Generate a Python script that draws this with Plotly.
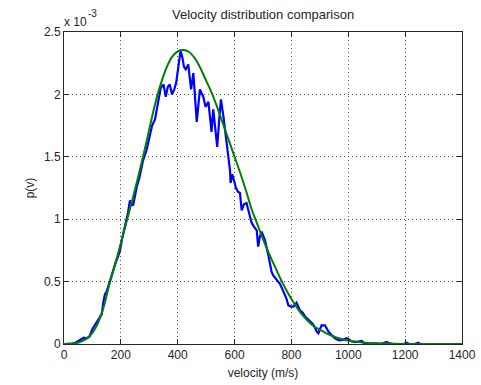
import plotly.graph_objects as go

# Measured (blue) distribution: velocity (m/s) and p(v) in units of 1e-3
v_meas = [0, 20, 30, 40, 50, 60, 70, 80, 90, 100, 110, 120, 127, 133, 138, 144, 150, 160, 170, 180,
          190, 197, 205, 215, 225, 232, 238, 243, 250, 256, 265, 272, 278, 290, 300, 310, 320, 325,
          330, 340, 350, 358, 365, 372, 380, 388, 395, 402, 410, 416, 422, 428, 437, 447, 455, 467,
          478, 490, 498, 508, 519, 525, 532, 539, 546, 552, 561, 570, 577, 584, 586, 592, 598, 605,
          612, 619, 625, 633, 642, 650, 660, 668, 678, 683, 689, 695, 707, 719, 730, 736, 748, 760,
          772, 783, 789, 798, 807, 818, 830, 840, 848, 858, 865, 875, 883, 889, 895, 900, 906, 918,
          925, 930, 942, 953, 962, 971, 983, 994, 1000, 1012, 1025, 1035, 1047, 1055, 1065, 1090,
          1110, 1125, 1135, 1145, 1160, 1195, 1205, 1215, 1235, 1245, 1255, 1400]
p_meas = [0, 0, 0.003, 0.01, 0.025, 0.04, 0.05, 0.045, 0.06, 0.12, 0.16, 0.19, 0.22, 0.24, 0.33, 0.40,
          0.42, 0.50, 0.57, 0.64, 0.70, 0.75, 0.85, 0.95, 1.05, 1.15, 1.12, 1.11, 1.20, 1.26, 1.33,
          1.42, 1.47, 1.55, 1.66, 1.75, 1.80, 1.86, 1.95, 2.05, 2.08, 1.98, 2.06, 2.08, 2.00, 2.04,
          2.10, 2.22, 2.35, 2.30, 2.22, 2.20, 2.24, 2.04, 2.17, 1.78, 2.04, 1.98, 1.90, 1.94, 1.70,
          1.88, 1.75, 1.58, 1.80, 1.96, 1.82, 1.65, 1.55, 1.39, 1.29, 1.36, 1.31, 1.25, 1.22, 1.21,
          1.07, 1.12, 1.13, 1.05, 0.97, 0.94, 0.91, 0.78, 0.86, 0.90, 0.83, 0.71, 0.58, 0.55, 0.51,
          0.48, 0.42, 0.36, 0.31, 0.30, 0.30, 0.33, 0.27, 0.25, 0.22, 0.20, 0.18, 0.16, 0.13, 0.10,
          0.086, 0.12, 0.15, 0.15, 0.12, 0.10, 0.07, 0.046, 0.035, 0.03, 0.035, 0.046, 0.04, 0.02,
          0.015, 0.02, 0.024, 0.01, 0.0, 0.005, 0.0, 0.008, 0.016, 0.005, 0.0, 0.0, 0.01, 0.0, 0.0,
          0.01, 0.0, 0.0]

# Theoretical (green) distribution, p(v) in units of 1e-3
v_theory = [0, 20, 40, 60, 80, 100, 120, 140, 160, 180, 200, 220, 240, 260, 280, 300, 320, 340, 360,
            380, 400, 420, 440, 460, 480, 500, 520, 540, 560, 580, 600, 620, 640, 660, 680, 700, 720,
            740, 760, 780, 800, 820, 840, 860, 880, 900, 920, 940, 960, 980, 1000, 1050, 1100, 1150,
            1200, 1300, 1400]
p_theory = [0, 0.002, 0.006, 0.02, 0.045, 0.09, 0.17, 0.30, 0.48, 0.64, 0.81, 0.98, 1.15, 1.33, 1.52,
            1.72, 1.92, 2.08, 2.21, 2.30, 2.345, 2.355, 2.34, 2.29, 2.21, 2.11, 2.01, 1.89, 1.76, 1.63,
            1.50, 1.37, 1.23, 1.08, 0.96, 0.84, 0.73, 0.63, 0.53, 0.44, 0.36, 0.29, 0.23, 0.18, 0.14,
            0.115, 0.09, 0.068, 0.05, 0.038, 0.028, 0.013, 0.006, 0.003, 0.001, 0.0, 0.0]

x_ticks = [0, 200, 400, 600, 800, 1000, 1200, 1400]
y_ticks = [0, 0.5, 1, 1.5, 2, 2.5]
y_tick_text = ["0", "0.5", "1", "1.5", "2", "2.5"]

font = "Liberation Sans, Arial, sans-serif"
ink = "#262626"

fig = go.Figure()
fig.add_trace(go.Scatter(x=v_meas, y=p_meas, mode="lines",
                         line=dict(color="#0000ff", width=2.2), showlegend=False))
fig.add_trace(go.Scatter(x=v_theory, y=p_theory, mode="lines", line_shape="spline",
                         line=dict(color="#008000", width=2), showlegend=False))

axis_common = dict(showline=True, linecolor=ink, linewidth=1, mirror="ticks",
                   ticks="inside", ticklen=5, tickcolor=ink, automargin=False,
                   showgrid=True, gridcolor="#555555", griddash="1px,3px", gridwidth=1,
                   zeroline=False, tickfont=dict(family=font, size=12, color=ink))

fig.update_xaxes(range=[0, 1400], tickvals=x_ticks,
                 title=dict(text="velocity (m/s)", font=dict(family=font, size=12, color=ink),
                            standoff=7),
                 **axis_common)
fig.update_yaxes(range=[0, 2.5], tickvals=y_ticks, ticktext=y_tick_text,
                 title=dict(text="p(v)", font=dict(family=font, size=12, color=ink),
                            standoff=6),
                 **axis_common)

fig.add_annotation(xref="paper", yref="paper", x=0, y=1, xanchor="left", yanchor="bottom",
                   text="x 10", showarrow=False, xshift=-2, yshift=1,
                   font=dict(family=font, size=12, color=ink))
fig.add_annotation(xref="paper", yref="paper", x=0, y=1, xanchor="left", yanchor="bottom",
                   text="-3", showarrow=False, xshift=22, yshift=11,
                   font=dict(family=font, size=10, color=ink))

fig.update_layout(
    width=481, height=385,
    margin=dict(l=64, r=19, t=32, b=41),
    paper_bgcolor="white", plot_bgcolor="white",
    title=dict(text="Velocity distribution comparison", x=0.547, xanchor="center",
               y=0.963, yanchor="middle", font=dict(family=font, size=13, color=ink)),
)

fig.write_html("out.html")
